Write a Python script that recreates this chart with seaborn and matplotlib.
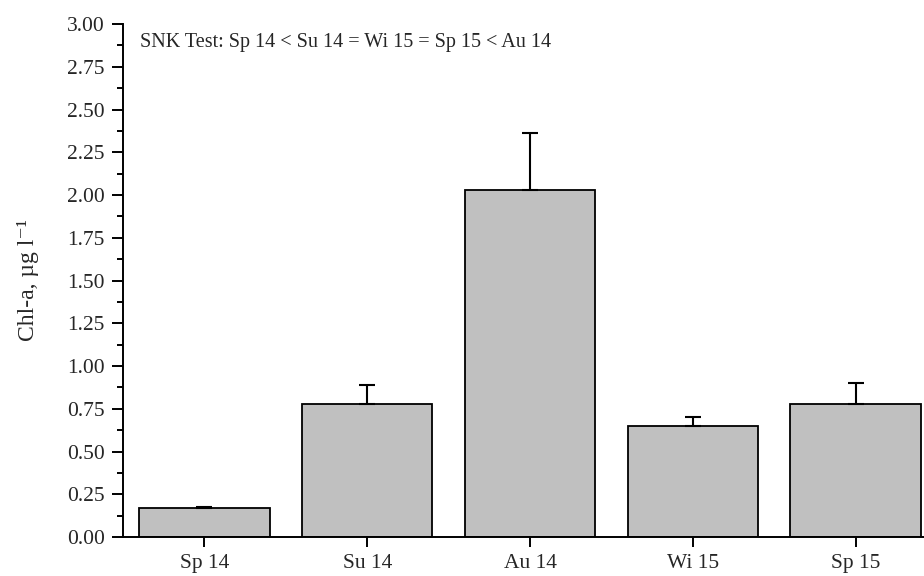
import numpy as np
import pandas as pd
import matplotlib
matplotlib.use("Agg")
import matplotlib.pyplot as plt
import seaborn as sns
from matplotlib.ticker import MultipleLocator, FormatStrFormatter

seasons = ["Sp 14", "Su 14", "Au 14", "Wi 15", "Sp 15"]
chla_mean = [0.17, 0.78, 2.03, 0.65, 0.776]
chla_err = [0.005, 0.108, 0.334, 0.052, 0.122]

sns.set_style("ticks")
plt.rcParams["font.family"] = ["Liberation Serif", "DejaVu Serif"]

df = pd.DataFrame({"Season": seasons, "Chla": chla_mean})

fig = plt.figure(figsize=(9.24, 5.76), dpi=100)
ax = fig.add_axes([0.1331, 0.0677, 0.8669, 0.8906])

sns.barplot(data=df, x="Season", y="Chla", order=seasons, color="#c0c0c0",
            saturation=1, width=0.8, edgecolor="black", linewidth=1.3,
            errorbar=None, ax=ax)

# upper error bars only
xpos = np.arange(len(seasons))
ax.errorbar(xpos, chla_mean, yerr=[np.zeros(len(chla_err)), chla_err],
            fmt="none", ecolor="black", elinewidth=1.5, capsize=6, capthick=1.5)

ax.set_xlim(-0.5, 4.42)
ax.set_ylim(0, 3.0)
ax.yaxis.set_major_locator(MultipleLocator(0.25))
ax.yaxis.set_minor_locator(MultipleLocator(0.125))
ax.yaxis.set_major_formatter(FormatStrFormatter("%.2f"))

sns.despine(ax=ax)
for side in ["left", "bottom"]:
    ax.spines[side].set_linewidth(1.4)
    ax.spines[side].set_color("black")

ax.tick_params(axis="y", which="major", direction="out", length=8, width=1.4,
               labelsize=15.5, color="black", pad=5)
ax.tick_params(axis="y", which="minor", direction="out", length=4.5, width=1.4,
               color="black")
ax.tick_params(axis="x", which="major", direction="out", length=7, width=1.4,
               labelsize=15.5, color="black", pad=5)

ax.set_xlabel("")
ax.set_ylabel("Chl-a, µg l\u207b\u00b9", fontsize=17, labelpad=20)

ax.text(-0.395, 2.89, "SNK Test: Sp 14 < Su 14 = Wi 15 = Sp 15 < Au 14",
        fontsize=14.5, va="center", ha="left")

fig.savefig("out.png", dpi=100)
